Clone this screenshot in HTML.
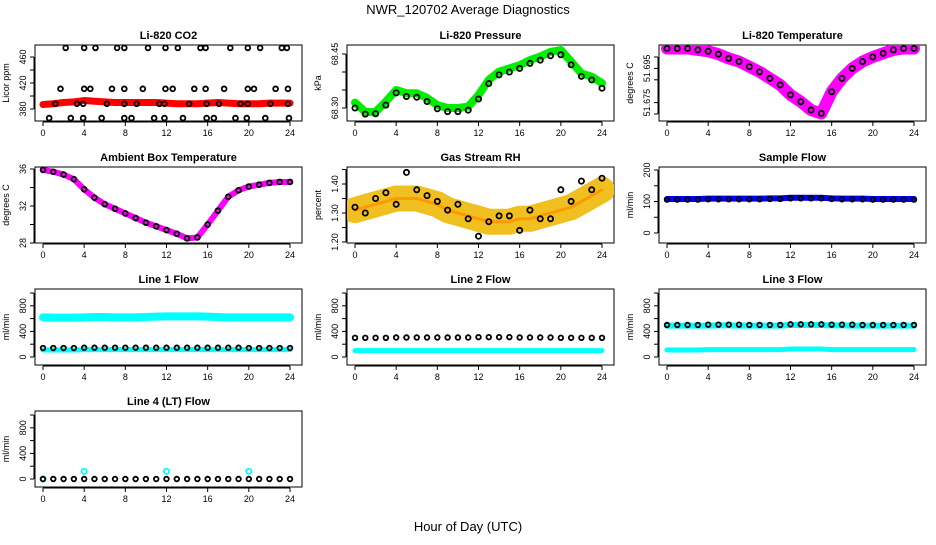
<!DOCTYPE html>
<html><head><meta charset="utf-8"><style>
body{margin:0;background:#fff;}
svg text{font-family:"Liberation Sans",sans-serif;}
</style></head><body>
<svg id="chart" width="936" height="540" viewBox="0 0 936 540" xmlns="http://www.w3.org/2000/svg">
<text x="468" y="14" text-anchor="middle" font-size="13">NWR_120702  Average Diagnostics</text>
<text x="468" y="531" text-anchor="middle" font-size="13">Hour of Day (UTC)</text>
</svg>
<script>
const hours = [0,1,2,3,4,5,6,7,8,9,10,11,12,13,14,15,16,17,18,19,20,21,22,23,24];
const xTicks = [0,4,8,12,16,20,24];
// CO2
const co2Band = [387,388,390,391,393,392,391,390,390,390,390,390,389,388,388,388,389,390,389,388,388,388,389,389,389];
const co2CircleHours = [2.2,4.0,5.1,7.2,7.9,10.2,11.9,13.1,15.3,15.8,18.2,19.9,21.1,23.2,23.7,
 1.7,4.0,4.6,6.7,7.9,9.7,11.9,12.6,14.7,15.8,17.6,19.9,20.5,22.6,23.8,
 1.2,3.3,3.9,6.2,7.9,9.1,11.3,11.8,14.2,15.9,17.1,19.2,19.9,22.1,23.8,
 0.6,2.7,3.9,5.7,7.9,8.6,10.8,11.8,13.6,15.9,16.6,18.7,19.8,21.6,23.9];
const co2CircleVals = [474,474,474,474,474,474,474,474,474,474,474,474,474,474,474,
 411,411,411,411,411,411,411,411,411,411,411,411,411,411,411,
 388,388,388,388,388,388,388,388,388,388,388,388,388,388,388,
 366,366,366,366,366,366,366,366,366,366,366,366,366,366,366];
// Pressure
const presBand = [68.315,68.289,68.289,68.318,68.35,68.341,68.341,68.328,68.308,68.300,68.300,68.304,68.336,68.378,68.401,68.410,68.419,68.433,68.443,68.456,68.461,68.429,68.396,68.387,68.369];
const presBlack = [68.300,68.283,68.284,68.308,68.342,68.332,68.330,68.318,68.298,68.290,68.290,68.294,68.325,68.368,68.392,68.400,68.410,68.424,68.433,68.445,68.448,68.420,68.388,68.378,68.355];
// Li-820 temperature
const tempBand = [51.698,51.698,51.698,51.6975,51.697,51.696,51.6945,51.6934,51.6916,51.6898,51.6875,51.6852,51.6817,51.6793,51.6764,51.6752,51.6828,51.6875,51.691,51.6934,51.695,51.6963,51.6975,51.698,51.698];
// Ambient
const ambVals = [35.9,35.7,35.4,34.9,33.8,32.9,32.2,31.7,31.2,30.7,30.2,29.8,29.4,29.0,28.5,28.6,30.0,31.5,33.0,33.7,34.1,34.3,34.5,34.6,34.6];
// RH
const rhBand = [1.31,1.32,1.33,1.34,1.35,1.35,1.35,1.34,1.33,1.31,1.30,1.29,1.28,1.27,1.27,1.27,1.28,1.28,1.29,1.30,1.31,1.32,1.34,1.36,1.38];
const rhBlack = [1.32,1.30,1.35,1.37,1.33,1.44,1.38,1.36,1.34,1.31,1.33,1.28,1.22,1.27,1.29,1.29,1.24,1.31,1.28,1.28,1.38,1.34,1.41,1.38,1.42];
// flows
const sampleBand = [108,108,108,108,109,109,109,109,109,109,110,110,112,112,112,112,110,109,109,109,108,108,108,108,108];
const sampleBlack = [106,106,106,106,107,107,107,107,107,107,108,108,110,110,110,110,108,107,107,107,106,106,106,106,106];
const line1High = [620,615,615,615,620,625,625,620,620,620,625,630,635,635,635,635,630,625,620,620,620,620,620,620,620];
const line1Low = [110,110,110,110,115,115,115,115,115,115,115,115,115,115,115,115,115,115,115,115,115,115,115,115,115];
const line1Black = [140,140,140,140,145,145,145,145,145,145,145,145,145,145,145,145,145,145,145,145,140,140,140,140,140];
const line2Black = [300,300,300,300,305,305,305,305,305,305,305,305,310,310,310,310,305,305,305,305,300,300,300,300,300];
const line2Cyan = [100,100,100,100,100,100,100,100,100,100,100,100,100,100,100,100,100,100,100,100,100,100,100,100,100];
const line3Black = [500,500,500,500,505,505,505,505,500,500,500,500,510,510,510,510,505,505,505,500,500,500,500,500,500];
const line3CyanHigh = [490,490,490,490,490,495,495,490,490,490,490,490,500,500,500,500,495,495,490,490,490,490,490,490,490];
const line3CyanLow = [110,110,110,110,115,115,115,115,115,115,115,115,125,125,125,125,115,115,115,115,115,115,115,115,115];
const line4Black = [0,0,0,0,0,0,0,0,0,0,0,0,0,0,0,0,0,0,0,0,0,0,0,0,0];
const line4OutlierHours = [0,4,12,20];
const line4OutlierVals = [0,120,120,120];

const svg = document.getElementById('chart');
const NS = 'http://www.w3.org/2000/svg';
function mk(tag, attrs, parent){
  const e = document.createElementNS(NS, tag);
  for (const k in attrs) e.setAttribute(k, attrs[k]);
  (parent||svg).appendChild(e);
  return e;
}
const colLeft = [35,347,659];
const rowTop = [45,167,289,411];
const BW = 267, BH = 76;

function panel(c, r, title, yTitle, yFn, yTicks, yLabels, name){
  const L = colLeft[c], T = rowTop[r];
  const g = mk('g', {});
  
  
  const xs = h => L + 8 + h * 247 / 24;
  const ys = v => yFn(v, T);
  const t = mk('text', {x: L + BW/2, y: T - 6, 'text-anchor':'middle', 'font-size':'11', 'font-weight':'bold'}, g);
  t.textContent = title;
  
  
  const box = mk('rect', {x:L, y:T, width:BW, height:BH, fill:'none', stroke:'#000', 'stroke-width':1}, g);
  
  
  const xa = mk('g', {}, g);
  
  
  mk('line', {x1:xs(xTicks[0]), x2:xs(xTicks[xTicks.length-1]), y1:T+BH+1, y2:T+BH+1, stroke:'#000'}, xa);
  xTicks.forEach(h => {
    mk('line', {x1:xs(h), x2:xs(h), y1:T+BH+1, y2:T+BH+5, stroke:'#000'}, xa);
    const tx = mk('text', {x:xs(h), y:T+BH+15, 'text-anchor':'middle', 'font-size':'9'}, xa);
    tx.textContent = h;
  });
  const ya = mk('g', {}, g);
  
  
  mk('line', {x1:L-1, x2:L-1, y1:ys(yTicks[0]), y2:ys(yTicks[yTicks.length-1]), stroke:'#000'}, ya);
  yTicks.forEach((v,i) => {
    mk('line', {x1:L-5, x2:L-1, y1:ys(v), y2:ys(v), stroke:'#000'}, ya);
    if (yLabels[i] !== '') {
      const yy = ys(v);
      const tx = mk('text', {x:L-9, y:yy, 'text-anchor':'middle', 'font-size':'9', transform:`rotate(-90 ${L-9} ${yy})`}, ya);
      tx.textContent = yLabels[i];
    }
  });
  const yt = mk('text', {x:L-26, y:T+BH/2, 'text-anchor':'middle', 'font-size':'9', transform:`rotate(-90 ${L-26} ${T+BH/2})`}, g);
  yt.textContent = yTitle;
  
  
  const clipId = 'clip-' + name;
  const cp = mk('clipPath', {id:clipId}, g);
  mk('rect', {x:L, y:T, width:BW, height:BH}, cp);
  const marks = mk('g', {'clip-path':`url(#${clipId})`}, g);
  
  
  return {xs, ys, marks};
}
function band(p, vals, color, w, name){
  const pts = hours.map((h,i) => p.xs(h) + ',' + p.ys(vals[i])).join(' ');
  const pl = mk('polyline', {points:pts, fill:'none', stroke:color, 'stroke-width':w, 'stroke-linejoin':'round', 'stroke-linecap':'round'}, p.marks);
  
  
}
function circles(p, hs, vals, color, rad, name){
  hs.forEach((h,i) => {
    const c = mk('circle', {cx:p.xs(h), cy:p.ys(vals[i]), r:rad, fill:'none', stroke:color, 'stroke-width':1.8}, p.marks);
    
    
  });
}
function lin(v0, y0, v1, y1){ return (v, T) => T + y0 + (v - v0) * (y1 - y0) / (v1 - v0); }

// Row 1
let p = panel(0,0,'Li-820 CO2','Licor ppm', lin(380,64,460,12), [380,400,420,440,460], ['380','','420','','460'], 'co2');
band(p, co2Band, '#ff0000', 7, 'co2-band');
circles(p, co2CircleHours, co2CircleVals, '#000', 2.4, 'co2-point');

p = panel(1,0,'Li-820 Pressure','kPa', lin(68.30,63,68.45,9), [68.30,68.35,68.40,68.45], ['68.30','','','68.45'], 'pressure');
band(p, presBand, '#00ee00', 8, 'pressure-band');
circles(p, hours, presBlack, '#000', 2.6, 'pressure-point');

p = panel(2,0,'Li-820 Temperature','degrees C', lin(51.675,69,51.695,12), [51.675,51.679,51.687,51.691,51.695], ['','51.675','','51.695',''], 'li820-temp');
band(p, tempBand, '#ff00ff', 12, 'temp-band');
circles(p, hours, tempBand, '#000', 2.6, 'temp-point');

// Row 2
p = panel(0,1,'Ambient Box Temperature','degrees C', lin(28,76,36,2), [28,30,32,34,36], ['28','','32','','36'], 'ambient');
band(p, ambVals, '#ff00ff', 6, 'ambient-band');
circles(p, hours, ambVals, '#000', 2.4, 'ambient-point');

p = panel(1,1,'Gas Stream RH','percent', lin(1.20,75,1.45,2.5), [1.20,1.25,1.30,1.35,1.40,1.45], ['1.20','','1.30','','1.40',''], 'rh');
band(p, rhBand, '#f0c020', 26, 'rh-band');
band(p, rhBand, '#ff9900', 3, 'rh-band-core');
circles(p, hours, rhBlack, '#000', 2.6, 'rh-point');

p = panel(2,1,'Sample Flow','ml/min', lin(0,66,200,3), [0,50,100,150,200], ['0','','100','','200'], 'sample-flow');
band(p, sampleBand, '#0000ff', 6, 'sample-band');
circles(p, hours, sampleBlack, '#000', 2.3, 'sample-point');

const flowY = lin(0,68,1000,4);
const flowTicks = [0,200,400,600,800,1000];
const flowLabels = ['0','','400','','800',''];
// Row 3
p = panel(0,2,'Line 1 Flow','ml/min', flowY, flowTicks, flowLabels, 'line1');
band(p, line1High, '#00ffff', 8, 'line1-high-band');
band(p, line1Low, '#00ffff', 5, 'line1-low-band');
circles(p, hours, line1Black, '#000', 2.3, 'line1-point');

p = panel(1,2,'Line 2 Flow','ml/min', flowY, flowTicks, flowLabels, 'line2');
band(p, line2Cyan, '#00ffff', 5, 'line2-band');
circles(p, hours, line2Black, '#000', 2.3, 'line2-point');

p = panel(2,2,'Line 3 Flow','ml/min', flowY, flowTicks, flowLabels, 'line3');
band(p, line3CyanHigh, '#00ffff', 6, 'line3-high-band');
band(p, line3CyanLow, '#00ffff', 5, 'line3-low-band');
circles(p, hours, line3Black, '#000', 2.3, 'line3-point');

// Row 4
p = panel(0,3,'Line 4 (LT) Flow','ml/min', flowY, flowTicks, flowLabels, 'line4');
circles(p, line4OutlierHours, line4OutlierVals, '#00ffff', 2.6, 'line4-cyan-point');
circles(p, hours, line4Black, '#000', 2.3, 'line4-point');
</script>
</body></html>
